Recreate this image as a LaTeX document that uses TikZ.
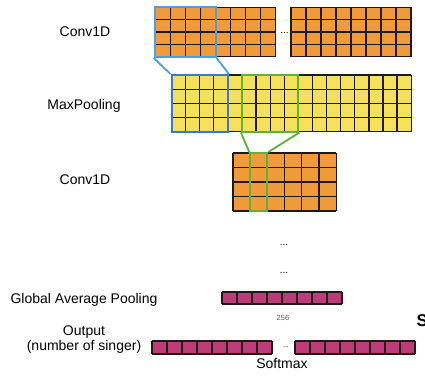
\documentclass[tikz,border=0pt]{standalone}
\usepackage{fontspec}
\setmainfont{Liberation Sans}
\definecolor{orng}{RGB}{240,154,58}
\definecolor{ylw}{RGB}{245,224,90}
\definecolor{mag}{RGB}{190,58,120}
\definecolor{bluelt}{RGB}{74,158,232}
\definecolor{bluedk}{RGB}{58,120,200}
\definecolor{grn}{RGB}{96,178,52}
\definecolor{gridc}{RGB}{30,25,20}
\newcommand\mygrid[7]{%
  \fill[#7] (#1,#2) rectangle ++({#3*#5},{#4*#6});
  \foreach \i in {0,...,#3} \draw[gridline] ({#1+\i*#5},#2) -- ++(0,{#4*#6});
  \foreach \j in {0,...,#4} \draw[gridline] (#1,{#2+\j*#6}) -- ++({#3*#5},0);
}
\tikzset{
  gridline/.style={draw=gridc, line width=1.3pt},
  lbl/.style={font=\fontsize{14}{16}\selectfont, align=center, inner sep=0pt},
  dotsl/.style={font=\fontsize{10}{12}\selectfont, inner sep=0pt},
  sel/.style={draw, line width=2pt, inner sep=0pt, fill=none},
  conn/.style={line width=1.8pt},
}
\begin{document}
\begin{tikzpicture}[x=1pt,y=-1pt]
\useasboundingbox (0,0) rectangle (425,376);
% grids
\mygrid{155.5}{7.3}{8}{4}{15}{12.35}{orng}
\mygrid{291}{7.3}{8}{4}{15}{12.35}{orng}
\mygrid{171.5}{75}{17}{4}{14.1}{14.15}{ylw}
\mygrid{233}{153}{6}{4}{17.2}{14.5}{orng}
\mygrid{222}{292}{8}{1}{15}{12}{mag}
\mygrid{152}{341}{8}{1}{15}{13}{mag}
\mygrid{295}{341}{8}{1}{15}{13}{mag}
% selection boxes
\node[sel, draw=bluelt, minimum width=61pt, minimum height=49.6pt] (bluetop) at (185,32.1) {};
\node[sel, draw=bluedk, minimum width=56.4pt, minimum height=56.6pt] (bluebot) at (199.7,103.3) {};
\node[sel, draw=grn, minimum width=56.4pt, minimum height=56.6pt] (grnbox) at (270.1,103.3) {};
\node[sel, draw=grn, minimum width=17.2pt, minimum height=58pt] (grncol) at (258.8,182) {};
% connectors
\draw[conn, bluelt] (bluetop.south west) -- (bluebot.north west);
\draw[conn, bluelt] (bluetop.south east) -- (bluebot.north east);
\draw[conn, grn] (grnbox.south west) -- (grncol.north west);
\draw[conn, grn] (grnbox.south east) -- (grncol.north east);
% dots
\node[dotsl] (d1) at (284.5,33) {...};
\node[dotsl] (d2) at (284,245) {...};
\node[dotsl] (d3) at (284,272.5) {...};
\node[font=\fontsize{7}{8}\selectfont, inner sep=0pt] (d4) at (286,347.5) {...};
% labels
\node[lbl] (l1) at (85,32) {Conv1D};
\node[lbl] (l2) at (84,105.5) {MaxPooling};
\node[lbl] (l3) at (85,180) {Conv1D};
\node[lbl] (l4) at (84,300) {Global Average Pooling};
\node[lbl, font=\fontsize{14}{14.5}\selectfont] (l5) at (84,339.5) {Output\\(number of singer)};
\node[lbl] (l6) at (282,363) {Softmax};
\node[font=\fontsize{7.5}{9}\selectfont, inner sep=0pt, text=gray!70!black] (l7) at (283,318) {256};
\node[font=\bfseries\fontsize{17}{18}\selectfont, inner sep=0pt, anchor=west] (l8) at (416.5,321) {S};
\end{tikzpicture}
\end{document}
